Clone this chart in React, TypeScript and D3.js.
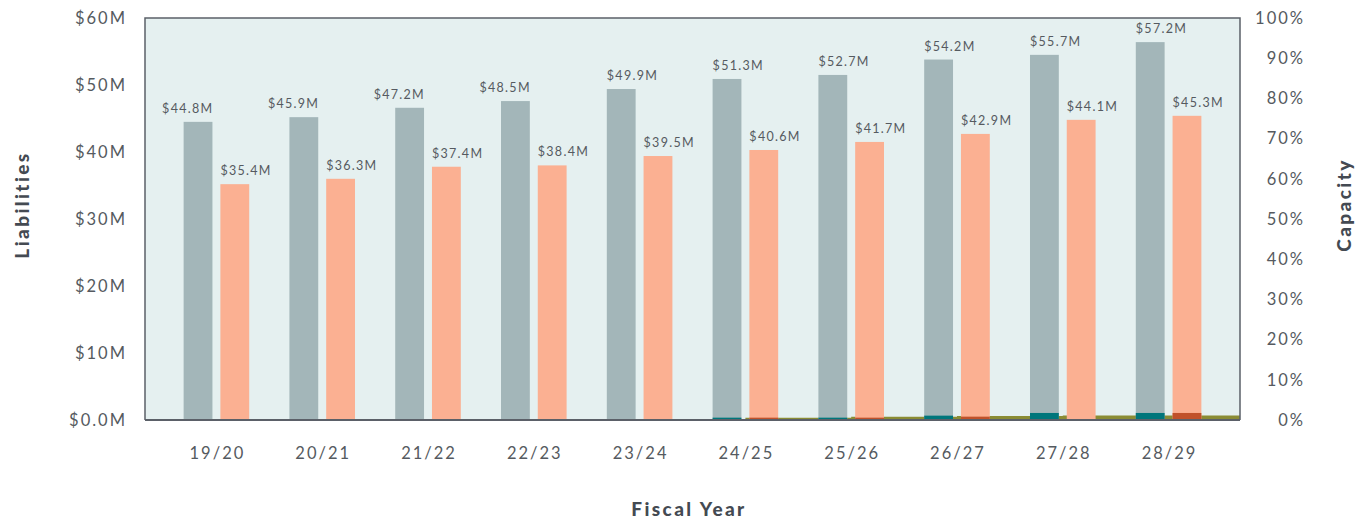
import * as d3 from "d3";
import { useEffect, useRef } from "react";

// fiscal years on the x axis
const years = ["19/20", "20/21", "21/22", "22/23", "23/24", "24/25", "25/26", "26/27", "27/28", "28/29"];

// liabilities ($M): printed labels, and bar heights as drawn in the picture
const liabilities = [44.8, 45.9, 47.2, 48.5, 49.9, 51.3, 52.7, 54.2, 55.7, 57.2];
const liabilitiesBar = [44.5, 45.2, 46.6, 47.6, 49.4, 50.9, 51.5, 53.8, 54.5, 56.4];
// salmon series ($M): labels and drawn heights
const funded = [35.4, 36.3, 37.4, 38.4, 39.5, 40.6, 41.7, 42.9, 44.1, 45.3];
const fundedBar = [35.2, 36.0, 37.8, 38.0, 39.4, 40.3, 41.5, 42.7, 44.8, 45.4];
// small overlays at the bottom ($M)
const liabilitiesNew = [0, 0, 0, 0, 0, 0.35, 0.35, 0.65, 1.05, 1.05];
const fundedNew = [0, 0, 0, 0, 0, 0.35, 0.35, 0.5, 0, 1.05];
// capacity (%), olive step area on right axis
const capacity = [null, null, null, null, null, 0.55, 0.8, 1.0, 1.1, 1.1];

const leftTicks = [0, 10, 20, 30, 40, 50, 60];
const rightTicks = [0, 10, 20, 30, 40, 50, 60, 70, 80, 90, 100];

const FONT = "Lato, 'Noto Sans', sans-serif";

export default function App() {
  const ref = useRef<SVGSVGElement>(null);

  useEffect(() => {
    const svg = d3.select(ref.current);
    svg.selectAll("*").remove();

    const width = 1357;
    const height = 522;
    const plot = { left: 145, right: 1240, top: 18, bottom: 420 };

    svg.attr("width", width).attr("height", height);

    const x0 = d3.scaleBand().domain(years).range([plot.left, plot.right]).paddingInner(0.38).paddingOuter(0.365);
    const x1 = d3.scaleBand().domain(["a", "b"]).range([0, x0.bandwidth()]).paddingInner(0.216);
    const y = d3.scaleLinear().domain([0, 60]).range([plot.bottom, plot.top]);
    const yr = d3.scaleLinear().domain([0, 100]).range([plot.bottom, plot.top]);

    // background
    svg.append("rect")
      .attr("x", plot.left).attr("y", plot.top)
      .attr("width", plot.right - plot.left).attr("height", plot.bottom - plot.top)
      .attr("fill", "#e5f0f0");

    // capacity step area (behind bars)
    const capPts = years
      .map((yr0, i) => ({ x: x0(yr0)! + x0.bandwidth() / 2, v: capacity[i] }))
      .filter(d => d.v != null) as { x: number; v: number }[];
    capPts.push({ x: plot.right, v: capPts[capPts.length - 1].v });
    const area = d3.area<{ x: number; v: number }>()
      .x(d => d.x).y0(plot.bottom).y1(d => yr(d.v))
      .curve(d3.curveStepAfter);
    svg.append("path").attr("d", area(capPts)).attr("fill", "#8a8c34");

    const g = svg.append("g");
    years.forEach((yrName, i) => {
      const bx = x0(yrName)!;
      const ax = bx + x1("a")!;
      const sx = bx + x1("b")!;
      const w = x1.bandwidth();

      g.append("rect").attr("x", ax).attr("y", y(liabilitiesBar[i])).attr("width", w)
        .attr("height", y(0) - y(liabilitiesBar[i])).attr("fill", "#a3b6b9");
      g.append("rect").attr("x", sx).attr("y", y(fundedBar[i])).attr("width", w)
        .attr("height", y(0) - y(fundedBar[i])).attr("fill", "#fbb092");

      if (liabilitiesNew[i] > 0) {
        g.append("rect").attr("x", ax).attr("y", y(liabilitiesNew[i])).attr("width", w)
          .attr("height", y(0) - y(liabilitiesNew[i])).attr("fill", "#00767b");
      }
      if (fundedNew[i] > 0) {
        g.append("rect").attr("x", sx).attr("y", y(fundedNew[i])).attr("width", w)
          .attr("height", y(0) - y(fundedNew[i])).attr("fill", "#c0512a");
      }

      // value labels
      const early = i < 4;
      g.append("text")
        .attr("x", early ? ax + w + 1 : ax)
        .attr("y", y(liabilitiesBar[i]) - 9)
        .attr("text-anchor", early ? "end" : "start")
        .text(`$${liabilities[i].toFixed(1)}M`);
      g.append("text")
        .attr("x", sx)
        .attr("y", y(fundedBar[i]) - 9)
        .attr("text-anchor", "start")
        .text(`$${funded[i].toFixed(1)}M`);
    });
    g.selectAll("text")
      .style("font-family", FONT).style("font-size", "12.5px")
      .style("letter-spacing", "1.3px").attr("fill", "#555a60");

    // frame
    svg.append("path")
      .attr("d", `M${plot.left},${plot.bottom}V${plot.top}H${plot.right}V${plot.bottom}`)
      .attr("fill", "none").attr("stroke", "#5b6068").attr("stroke-width", 1.5);
    svg.append("line")
      .attr("x1", plot.left).attr("x2", plot.right)
      .attr("y1", plot.bottom).attr("y2", plot.bottom)
      .attr("stroke", "#5b6068").attr("stroke-width", 2);

    const tickStyle = (sel: any) => sel
      .style("font-family", FONT).style("font-size", "16.5px")
      .style("letter-spacing", "2px").attr("fill", "#555a60");

    // left axis
    svg.append("g").selectAll("text").data(leftTicks).join("text")
      .attr("x", 127).attr("y", d => y(d)).attr("dy", "0.35em")
      .attr("text-anchor", "end")
      .text(d => d === 0 ? "$0.0M" : `$${d}M`)
      .call(tickStyle);

    // right axis
    svg.append("g").selectAll("text").data(rightTicks).join("text")
      .attr("x", 1305).attr("y", d => yr(d)).attr("dy", "0.35em")
      .attr("text-anchor", "end")
      .text(d => `${d}%`)
      .call(tickStyle);

    // x axis
    svg.append("g").selectAll("text").data(years).join("text")
      .attr("x", d => x0(d)! + x0.bandwidth() / 2 + 1).attr("y", 453).attr("dy", "0.35em")
      .attr("text-anchor", "middle")
      .text(d => d)
      .call(tickStyle);

    // axis titles
    const titleStyle = (sel: any) => sel
      .style("font-family", FONT).style("font-size", "19px").style("font-weight", 900)
      .style("letter-spacing", "2.4px").attr("fill", "#444a52").attr("text-anchor", "middle");

    svg.append("text").attr("transform", "translate(29,205) rotate(-90)")
      .text("Liabilities").call(titleStyle);
    svg.append("text").attr("transform", "translate(1351,205) rotate(-90)")
      .text("Capacity").call(titleStyle);
    svg.append("text").attr("x", 689).attr("y", 516)
      .text("Fiscal Year").call(titleStyle);
  }, []);

  return (
    <div style={{ position: "absolute", left: 0, top: 0 }}>
      <svg ref={ref} style={{ display: "block" }} />
    </div>
  );
}
